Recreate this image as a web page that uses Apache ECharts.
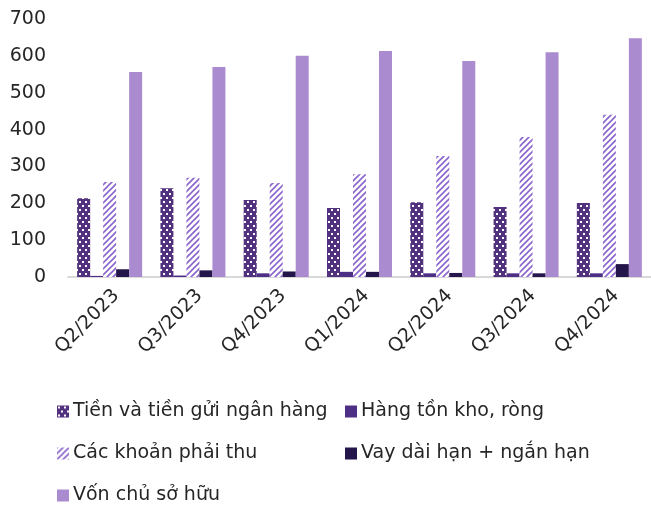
<!DOCTYPE html>
<html>
<head>
	<meta charset="UTF-8">
	<title>Bar chart</title>
	<script src="https://cdn.jsdelivr.net/npm/echarts@6/dist/echarts.min.js"></script>
	<style>
		html, body { margin: 0; padding: 0; background: #fff; }
		#main { width: 651px; height: 506px; }
	</style>
</head>
<body>
<div id="main"></div>
<script type="text/javascript">
    var categories = ['Q2/2023', 'Q3/2023', 'Q4/2023', 'Q1/2024', 'Q2/2024', 'Q3/2024', 'Q4/2024'];
    var yTicks = [0, 100, 200, 300, 400, 500, 600, 700];

    var cash = [214, 241, 209, 187, 203, 190, 201];
    var inventory = [3, 4, 10, 14, 10, 10, 10];
    var receivables = [258, 269, 255, 279, 328, 380, 440];
    var loans = [21, 18, 15, 14, 11, 10, 35];
    var equity = [556, 570, 600, 613, 586, 610, 648];

    var names = ['Tiền và tiền gửi ngân hàng', 'Hàng tồn kho, ròng', 'Các khoản phải thu',
        'Vay dài hạn + ngắn hạn', 'Vốn chủ sở hữu'];

    // dotted fill: dark purple with white dots
    function dotPattern() {
        var c = document.createElement('canvas');
        c.width = 6; c.height = 8;
        var ctx = c.getContext('2d');
        ctx.fillStyle = '#52317f';
        ctx.fillRect(0, 0, 6, 8);
        ctx.fillStyle = '#ffffff';
        ctx.fillRect(1, 1, 2, 2);
        ctx.fillRect(4, 5, 2, 2);
        return c;
    }

    // diagonal dashed hatch on white
    function hatchPattern() {
        var c = document.createElement('canvas');
        c.width = 6; c.height = 6;
        var ctx = c.getContext('2d');
        ctx.fillStyle = '#ffffff';
        ctx.fillRect(0, 0, 6, 6);
        ctx.strokeStyle = '#8b63cc';
        ctx.lineWidth = 1.6;
        ctx.beginPath();
        ctx.moveTo(0, 6); ctx.lineTo(6, 0);
        ctx.moveTo(-1, 1); ctx.lineTo(1, -1);
        ctx.moveTo(5, 7); ctx.lineTo(7, 5);
        ctx.stroke();
        return c;
    }

    var fonts = '"DejaVu Sans", "Noto Sans", sans-serif';
    var myChart = echarts.init(document.getElementById('main'));

    function legendAt(name, left, top) {
        return {
            data: [name],
            left: left,
            top: top,
            itemWidth: 12,
            itemHeight: 12,
            itemGap: 0,
            padding: 0,
            icon: 'rect',
            textStyle: {fontFamily: fonts, fontSize: 19, color: '#262626', padding: [0, 0, 0, -1]}
        };
    }

    myChart.setOption({
        animation: false,
        textStyle: {fontFamily: fonts},
        grid: {left: 68, right: -3, top: 19, bottom: 229, containLabel: false},
        legend: [
            legendAt(names[0], 57, 402),
            legendAt(names[1], 345, 402),
            legendAt(names[2], 57, 444),
            legendAt(names[3], 345, 444),
            legendAt(names[4], 57, 486)
        ],
        xAxis: {
            type: 'category',
            data: categories,
            axisLine: {lineStyle: {color: '#d9d9d9', width: 2}},
            axisTick: {show: false},
            axisLabel: {rotate: 45, margin: 9, fontSize: 19, color: '#262626', interval: 0,
                verticalAlign: 'top'}
        },
        yAxis: {
            type: 'value',
            min: yTicks[0],
            max: yTicks[yTicks.length - 1],
            interval: 100,
            splitLine: {show: false},
            axisLine: {show: false},
            axisTick: {show: false},
            axisLabel: {fontSize: 19, color: '#262626', margin: 22}
        },
        series: [
            {name: names[0], type: 'bar', data: cash, barWidth: 13, barGap: '0%',
                itemStyle: {color: {image: dotPattern(), repeat: 'repeat'}}},
            {name: names[1], type: 'bar', data: inventory, barWidth: 13, barGap: '0%',
                itemStyle: {color: '#4e2f86'}},
            {name: names[2], type: 'bar', data: receivables, barWidth: 13, barGap: '0%',
                itemStyle: {color: {image: hatchPattern(), repeat: 'repeat'}}},
            {name: names[3], type: 'bar', data: loans, barWidth: 13, barGap: '0%',
                itemStyle: {color: '#24164a'}},
            {name: names[4], type: 'bar', data: equity, barWidth: 13, barGap: '0%',
                itemStyle: {color: '#ab8bd0'}}
        ]
    });
</script>
</body>
</html>
